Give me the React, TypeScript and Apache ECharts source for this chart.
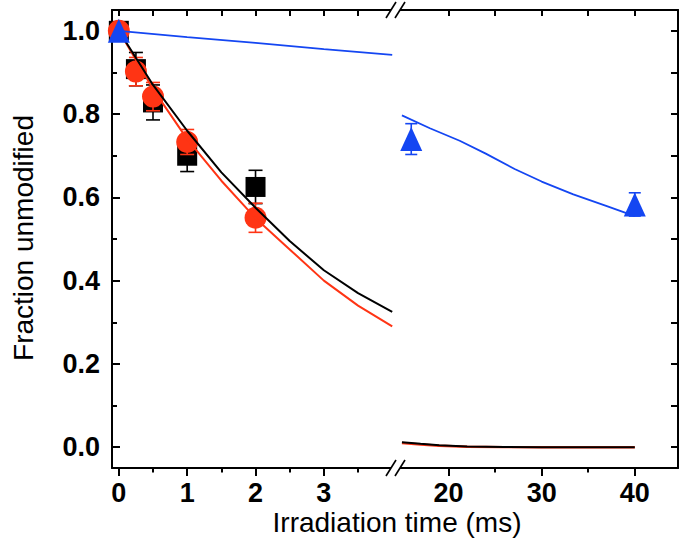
import React, { useEffect, useRef } from "react";
import * as echarts from "echarts";

// ---- data ----
const sampleTimes = [0, 0.25, 0.5, 1, 2];
const squareValues = [1.0, 0.908, 0.828, 0.7, 0.625];
const squareErrors = [0, 0.04, 0.042, 0.038, 0.04];
const circleValues = [1.0, 0.902, 0.842, 0.733, 0.551];
const circleErrors = [0, 0.034, 0.034, 0.03, 0.035];

const triangleTimesLeft = [0];
const triangleValuesLeft = [1.0];
const triangleTimesRight = [16, 40];
const triangleValuesRight = [0.74, 0.583];
const triangleErrorsRight = [0.037, 0.028];

const fitTimesLeft = [0, 0.5, 1, 1.5, 2, 2.5, 3, 3.5, 4];
const blackFitLeft = [1.0, 0.87, 0.76, 0.66, 0.575, 0.495, 0.425, 0.37, 0.325];
const redFitLeft = [1.0, 0.86, 0.74, 0.64, 0.55, 0.475, 0.4, 0.34, 0.29];
const blueFitTimesLeft = [0, 1, 2, 3, 4];
const blueFitLeft = [1.0, 0.985, 0.971, 0.956, 0.942];

const fitTimesRight = [15, 17, 19, 22, 26, 30, 40];
const blackFitRight = [0.012, 0.008, 0.0045, 0.0015, 0.0003, 0, 0];
const redFitRight = [0.01, 0.0065, 0.0035, 0.001, 0.0002, 0, 0];
const blueFitTimesRight = [15, 18, 21.2, 24, 27.1, 30, 33.4, 37, 40];
const blueFitRight = [0.797, 0.766, 0.736, 0.705, 0.668, 0.638, 0.607, 0.579, 0.555];

// ---- tick labels ----
const leftMajorX = [0, 1, 2, 3];
const leftMinorX = [0.5, 1.5, 2.5, 3.5];
const leftTopX = [0, 0.5, 1, 1.5, 2, 2.5, 3, 3.5];
const rightMajorX = [20, 30, 40];
const rightMinorX = [25, 35];
const rightTopX = [20, 25, 30, 35, 40];
const yMajor = [0, 0.2, 0.4, 0.6, 0.8, 1.0];
const yMinor = [0.1, 0.3, 0.5, 0.7, 0.9];
const yAll = [0, 0.1, 0.2, 0.3, 0.4, 0.5, 0.6, 0.7, 0.8, 0.9, 1.0];

const xTitle = "Irradiation time (ms)";
const yTitle = "Fraction unmodified";

const BLACK = "#000000";
const RED = "#ff3414";
const BLUE = "#1446f2";
const FONT = '"Liberation Sans", Arial, Helvetica, sans-serif';

const zip = (xs: number[], ys: number[]) => xs.map((x, i) => [x, ys[i]]);

function errorBars(
  times: number[],
  values: number[],
  errs: number[],
  color: string,
  xAxisIndex: number,
  yAxisIndex: number,
  z: number,
  capHalf: number
) {
  const data = times
    .map((t, i) => [t, values[i], errs[i]])
    .filter((d) => d[2] > 0);
  return {
    type: "custom",
    xAxisIndex,
    yAxisIndex,
    z,
    silent: true,
    data,
    encode: { x: 0, y: 1 },
    renderItem: (params: any, api: any) => {
      const x = api.value(0);
      const y = api.value(1);
      const e = api.value(2);
      const top = api.coord([x, y + e]);
      const bot = api.coord([x, y - e]);
      const style = { stroke: color, lineWidth: 1.6 };
      return {
        type: "group",
        children: [
          { type: "line", shape: { x1: top[0], y1: top[1], x2: bot[0], y2: bot[1] }, style },
          { type: "line", shape: { x1: top[0] - capHalf, y1: top[1], x2: top[0] + capHalf, y2: top[1] }, style },
          { type: "line", shape: { x1: bot[0] - capHalf, y1: bot[1], x2: bot[0] + capHalf, y2: bot[1] }, style },
        ],
      };
    },
  };
}

const axisLineStyle = { show: true, onZero: false, lineStyle: { color: BLACK, width: 2 } };
const noLine = { show: false, onZero: false };

function xAxisDef(
  gridIndex: number,
  min: number,
  max: number,
  position: string,
  ticks: number[],
  tickLen: number,
  inside: boolean,
  showLine: boolean,
  labels: number[] | null
) {
  return {
    type: "value",
    gridIndex,
    min,
    max,
    position,
    axisLine: showLine ? axisLineStyle : noLine,
    splitLine: { show: false },
    axisTick: {
      show: true,
      inside,
      length: tickLen,
      customValues: ticks,
      lineStyle: { color: BLACK, width: 2 },
    },
    axisLabel: labels
      ? {
          show: true,
          customValues: labels,
          margin: 13,
          color: BLACK,
          fontSize: 27,
          lineHeight: 23,
          fontWeight: "bold",
          fontFamily: FONT,
          formatter: (v: number) => String(v),
        }
      : { show: false },
  };
}

function yAxisDef(
  gridIndex: number,
  position: string,
  ticks: number[],
  tickLen: number,
  showLine: boolean,
  labels: number[] | null
) {
  return {
    type: "value",
    gridIndex,
    min: -0.05,
    max: 1.05,
    position,
    axisLine: showLine ? axisLineStyle : noLine,
    splitLine: { show: false },
    axisTick: {
      show: true,
      inside: true,
      length: tickLen,
      customValues: ticks,
      lineStyle: { color: BLACK, width: 2 },
    },
    axisLabel: labels
      ? {
          show: true,
          customValues: labels,
          margin: 12,
          color: BLACK,
          fontSize: 27,
          lineHeight: 23,
          fontWeight: "bold",
          fontFamily: FONT,
          formatter: (v: number) => v.toFixed(1),
        }
      : { show: false },
  };
}

function breakMark(y: number) {
  return [
    {
      type: "polygon",
      z: 100,
      silent: true,
      shape: { points: [[386, y + 8], [395, y + 8], [405, y - 8], [396, y - 8]] },
      style: { fill: "#ffffff" },
    },
    {
      type: "line",
      z: 101,
      silent: true,
      shape: { x1: 386, y1: y + 8, x2: 396, y2: y - 8 },
      style: { stroke: BLACK, lineWidth: 1.6 },
    },
    {
      type: "line",
      z: 101,
      silent: true,
      shape: { x1: 395, y1: y + 8, x2: 405, y2: y - 8 },
      style: { stroke: BLACK, lineWidth: 1.6 },
    },
  ];
}

export default function App() {
  const ref = useRef<HTMLDivElement>(null);

  useEffect(() => {
    document.body.style.margin = "0";
    if (!ref.current) return;
    const chart = echarts.init(ref.current, null, { renderer: "svg" });

    const L_MIN = -0.1;
    const L_MAX = 4.07;
    const R_MIN = 14.47;
    const R_MAX = 44.64;

    const option: any = {
      animation: false,
      backgroundColor: "#ffffff",
      grid: [
        { left: 112, top: 10, width: 285, height: 458 },
        { left: 397, top: 10, width: 281, height: 458 },
      ],
      xAxis: [
        xAxisDef(0, L_MIN, L_MAX, "bottom", leftMajorX, 8, false, true, leftMajorX),
        xAxisDef(0, L_MIN, L_MAX, "bottom", leftMinorX, 4.5, false, false, null),
        xAxisDef(0, L_MIN, L_MAX, "top", leftTopX, 6, true, true, null),
        xAxisDef(1, R_MIN, R_MAX, "bottom", rightMajorX, 8, false, true, rightMajorX),
        xAxisDef(1, R_MIN, R_MAX, "bottom", rightMinorX, 4.5, false, false, null),
        xAxisDef(1, R_MIN, R_MAX, "top", rightTopX, 6, true, true, null),
      ],
      yAxis: [
        yAxisDef(0, "left", yMajor, 8, true, yMajor),
        yAxisDef(0, "left", yMinor, 5, false, null),
        yAxisDef(1, "right", yAll, 7, true, null),
      ],
      series: [
        errorBars(sampleTimes, squareValues, squareErrors, BLACK, 0, 0, 2, 7),
        {
          type: "scatter",
          xAxisIndex: 0,
          yAxisIndex: 0,
          z: 3,
          silent: true,
          symbol: "rect",
          symbolSize: 20,
          itemStyle: { color: BLACK, opacity: 1 },
          data: zip(sampleTimes, squareValues),
        },
        errorBars(sampleTimes, circleValues, circleErrors, RED, 0, 0, 4, 7),
        {
          type: "scatter",
          xAxisIndex: 0,
          yAxisIndex: 0,
          z: 5,
          silent: true,
          symbol: "circle",
          symbolSize: 22,
          itemStyle: { color: RED, opacity: 1 },
          data: zip(sampleTimes, circleValues),
        },
        {
          type: "line",
          xAxisIndex: 0,
          yAxisIndex: 0,
          z: 6,
          silent: true,
          symbol: "none",
          lineStyle: { color: RED, width: 2 },
          data: zip(fitTimesLeft, redFitLeft),
        },
        {
          type: "line",
          xAxisIndex: 0,
          yAxisIndex: 0,
          z: 7,
          silent: true,
          symbol: "none",
          lineStyle: { color: BLACK, width: 2 },
          data: zip(fitTimesLeft, blackFitLeft),
        },
        {
          type: "line",
          xAxisIndex: 0,
          yAxisIndex: 0,
          z: 7,
          silent: true,
          symbol: "none",
          lineStyle: { color: BLUE, width: 1.8 },
          data: zip(blueFitTimesLeft, blueFitLeft),
        },
        {
          type: "line",
          xAxisIndex: 3,
          yAxisIndex: 2,
          z: 6,
          silent: true,
          symbol: "none",
          lineStyle: { color: RED, width: 2.4 },
          data: zip(fitTimesRight, redFitRight),
        },
        {
          type: "line",
          xAxisIndex: 3,
          yAxisIndex: 2,
          z: 7,
          silent: true,
          symbol: "none",
          lineStyle: { color: BLACK, width: 2 },
          data: zip(fitTimesRight, blackFitRight),
        },
        {
          type: "line",
          xAxisIndex: 3,
          yAxisIndex: 2,
          z: 7,
          silent: true,
          symbol: "none",
          lineStyle: { color: BLUE, width: 1.8 },
          data: zip(blueFitTimesRight, blueFitRight),
        },
        errorBars(triangleTimesRight, triangleValuesRight, triangleErrorsRight, BLUE, 3, 2, 8, 6),
        {
          type: "scatter",
          xAxisIndex: 0,
          yAxisIndex: 0,
          z: 9,
          silent: true,
          symbol: "triangle",
          symbolSize: [22, 24],
          itemStyle: { color: BLUE, opacity: 1 },
          data: zip(triangleTimesLeft, triangleValuesLeft),
        },
        {
          type: "scatter",
          xAxisIndex: 3,
          yAxisIndex: 2,
          z: 9,
          silent: true,
          symbol: "triangle",
          symbolSize: [22, 24],
          itemStyle: { color: BLUE, opacity: 1 },
          data: zip(triangleTimesRight, triangleValuesRight),
        },
      ],
      graphic: [
        ...breakMark(10),
        ...breakMark(468),
        {
          type: "text",
          x: 397,
          y: 522,
          silent: true,
          style: {
            text: xTitle,
            font: `28px ${FONT}`,
            lineHeight: 24,
            fill: BLACK,
            textAlign: "center",
            textVerticalAlign: "middle",
          },
        },
        {
          type: "text",
          x: 23,
          y: 238,
          rotation: Math.PI / 2,
          silent: true,
          style: {
            text: yTitle,
            font: `28px ${FONT}`,
            lineHeight: 24,
            fill: BLACK,
            textAlign: "center",
            textVerticalAlign: "middle",
          },
        },
      ],
    };

    chart.setOption(option);
    return () => {
      chart.dispose();
    };
  }, []);

  return <div ref={ref} style={{ width: 683, height: 552 }} />;
}
